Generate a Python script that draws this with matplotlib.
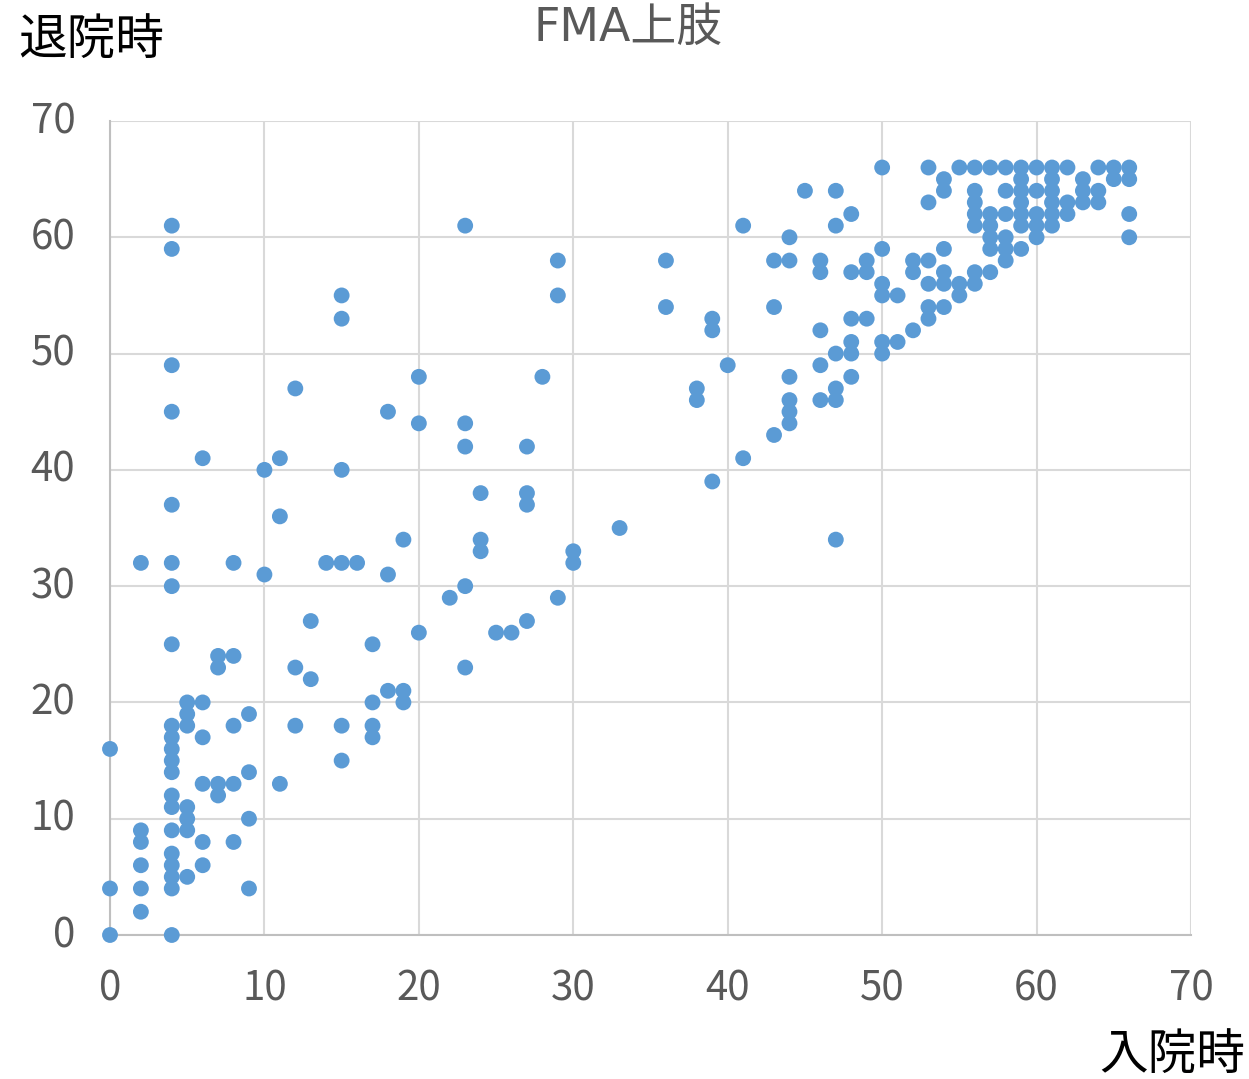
import matplotlib
matplotlib.use("Agg")
import matplotlib.pyplot as plt
import matplotlib.transforms as mtransforms

plt.rcParams['font.family'] = ['Noto Sans CJK JP', 'DejaVu Sans']

# Data: admission (入院時) score -> list of discharge (退院時) scores
columns = {
    0: [16, 4, 0],
    2: [32, 9, 8, 6, 4, 2],
    4: [61, 59, 49, 45, 37, 32, 30, 25, 18, 17, 16, 15, 14, 12, 11, 9, 7, 6, 5, 4, 0],
    5: [20, 19, 18, 11, 10, 9, 5],
    6: [41, 20, 17, 13, 8, 6],
    7: [24, 23, 13, 12],
    8: [32, 24, 18, 13, 8],
    9: [19, 14, 10, 4],
    10: [40, 31],
    11: [41, 36, 13],
    12: [47, 23, 18],
    13: [27, 22],
    14: [32],
    15: [55, 53, 40, 32, 18, 15],
    16: [32],
    17: [25, 20, 18, 17],
    18: [45, 31, 21],
    19: [34, 21, 20],
    20: [48, 44, 26],
    22: [29],
    23: [61, 44, 42, 30, 23],
    24: [38, 34, 33],
    25: [26],
    26: [26],
    27: [42, 38, 37, 27],
    28: [48],
    29: [58, 55, 29],
    30: [33, 32],
    33: [35],
    36: [58, 54],
    38: [47, 46],
    39: [53, 52, 39],
    40: [49],
    41: [61, 41],
    43: [58, 54, 43],
    44: [60, 58, 48, 46, 45, 44],
    45: [64],
    46: [58, 57, 52, 49, 46],
    47: [64, 61, 50, 47, 46, 34],
    48: [62, 57, 53, 51, 50, 48],
    49: [58, 57, 53],
    50: [66, 59, 56, 55, 51, 50],
    51: [55, 51],
    52: [58, 57, 52],
    53: [66, 63, 58, 56, 54, 53],
    54: [65, 64, 59, 57, 56, 54],
    55: [66, 56, 55],
    56: [66, 64, 63, 62, 61, 57, 56],
    57: [66, 62, 61, 60, 59, 57],
    58: [66, 64, 62, 60, 59, 58],
    59: [66, 65, 64, 63, 62, 61, 59],
    60: [66, 64, 62, 61, 60],
    61: [66, 65, 64, 63, 62, 61],
    62: [66, 63, 62],
    63: [65, 64, 63],
    64: [66, 64, 63],
    65: [66, 65],
    66: [66, 65, 62, 60],
}

admission = []
discharge = []
for k, vals in columns.items():
    for v in vals:
        admission.append(k)
        discharge.append(v)

title = "FMA上肢"
xlabel = "入院時"
ylabel = "退院時"
ticks = list(range(0, 71, 10))

fig = plt.figure(figsize=(12.49, 10.79), dpi=100)
ax = fig.add_axes([110/1249, 1 - 935/1079, (1191-110)/1249, (935-121)/1079])

ax.scatter(admission, discharge, s=130, color='#5b9bd5', edgecolors='none', zorder=3, clip_on=False)

ax.set_xlim(0, 70)
ax.set_ylim(0, 70)
ax.set_xticks(ticks)
ax.set_yticks(ticks)
ax.grid(True, color='#d9d9d9', linewidth=1.5, zorder=0)
for s in ['top', 'right']:
    ax.spines[s].set_visible(False)
for s in ['left', 'bottom']:
    ax.spines[s].set_color('#bfbfbf')
    ax.spines[s].set_linewidth(1.5)
ax.tick_params(length=0, labelsize=29, labelcolor='#595959')
ax.tick_params(axis='y', pad=25)
ax.tick_params(axis='x', pad=24)

offset = mtransforms.ScaledTranslation(0, 4/100, fig.dpi_scale_trans)
for lbl in ax.get_yticklabels():
    lbl.set_transform(lbl.get_transform() + offset)

fig.text(628/1249, 1 - 28/1079, title, ha='center', va='center', fontsize=33,
         color='#595959', family=['DejaVu Sans', 'Noto Sans CJK JP'])
fig.text(18/1249, 1 - 40/1079, ylabel, ha='left', va='center', fontsize=35, color='black')
fig.text(1245/1249, 1 - 1055/1079, xlabel, ha='right', va='center', fontsize=35, color='black')

fig.savefig("out.png", dpi=100)
